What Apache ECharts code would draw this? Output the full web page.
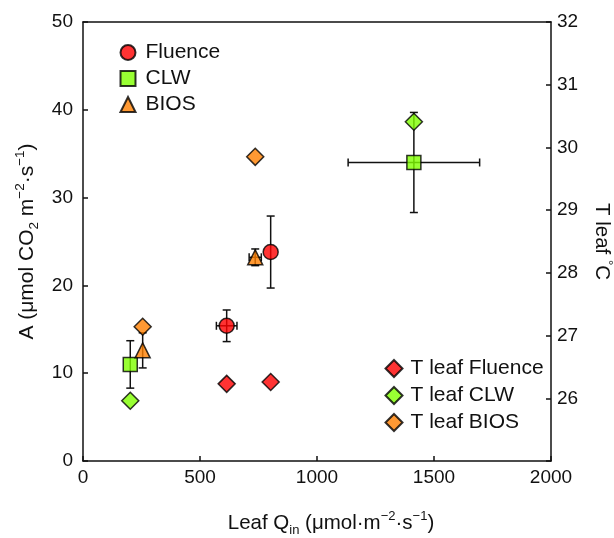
<!DOCTYPE html>
<html>
<head>
<meta charset="utf-8">
<script src="https://cdn.jsdelivr.net/npm/echarts@6/dist/echarts.min.js"></script>
<style>html,body{margin:0;padding:0;background:#fff}#c{width:614px;height:538px}</style>
</head>
<body>
<div id="c"></div>
<script>
// Photosynthesis A (left axis) vs leaf Qin
const fluenceQ = [614, 802];
const fluenceQErr = [44, 0];
const fluenceA = [15.4, 23.8];
const fluenceAErr = [1.8, 4.1];

const clwQ = [202, 1414];
const clwQErr = [0, 281];
const clwA = [11.0, 34.0];
const clwAErr = [2.7, 5.7];

const biosQ = [255, 736];
const biosQErr = [0, 26];
const biosA = [12.6, 23.2];
const biosAErr = [2.0, 0.95];

// Leaf temperature (right axis)
const tLeafFluence = [26.23, 26.26];
const tLeafCLW = [25.96, 30.41];
const tLeafBIOS = [27.14, 29.85];

const xTicks = [0, 500, 1000, 1500, 2000];
const leftTicks = [0, 10, 20, 30, 40, 50];
const rightTicks = [25, 26, 27, 28, 29, 30, 31, 32];

const FONT = '"Liberation Sans", Arial, Helvetica, sans-serif';
const RED = '#ff0000', GREEN = '#80ff00', ORANGE = '#ff8000';
const TICK_FS = 19, LEG_FS = 21;

function pts(xs, ys) { return xs.map((x, i) => [x, ys[i]]); }
function errPts(xs, ys, ex, ey) { return xs.map((x, i) => [x, ys[i], ex[i], ey[i]]); }

function renderErr(params, api) {
  const x = api.value(0), y = api.value(1), ex = api.value(2), ey = api.value(3);
  const cap = 4;
  const ch = [];
  const st = { stroke: '#111', lineWidth: 1.5 };
  if (ey > 0) {
    const t = api.coord([x, y + ey]), b = api.coord([x, y - ey]);
    ch.push({ type: 'line', shape: { x1: t[0], y1: t[1], x2: b[0], y2: b[1] }, style: st });
    ch.push({ type: 'line', shape: { x1: t[0] - cap, y1: t[1], x2: t[0] + cap, y2: t[1] }, style: st });
    ch.push({ type: 'line', shape: { x1: b[0] - cap, y1: b[1], x2: b[0] + cap, y2: b[1] }, style: st });
  }
  if (ex > 0) {
    const l = api.coord([x - ex, y]), r = api.coord([x + ex, y]);
    ch.push({ type: 'line', shape: { x1: l[0], y1: l[1], x2: r[0], y2: r[1] }, style: st });
    ch.push({ type: 'line', shape: { x1: l[0], y1: l[1] - cap, x2: l[0], y2: l[1] + cap }, style: st });
    ch.push({ type: 'line', shape: { x1: r[0], y1: r[1] - cap, x2: r[0], y2: r[1] + cap }, style: st });
  }
  return { type: 'group', children: ch };
}

const lineStyle = { color: '#111', width: 1.5 };
const axisCommon = {
  axisLine: { show: true, onZero: false, lineStyle: lineStyle },
  axisTick: { show: true, inside: true, length: 5, lineStyle: lineStyle },
  axisLabel: { color: '#111', fontSize: TICK_FS, fontFamily: FONT, formatter: (v) => String(v) },
  splitLine: { show: false }
};
const titleRich = (fs, sfs, lh) => ({
  n: { fontSize: fs, color: '#111', fontFamily: FONT, lineHeight: lh, verticalAlign: 'middle' },
  sub: { fontSize: sfs, color: '#111', fontFamily: FONT, lineHeight: lh, verticalAlign: 'bottom' },
  sup: { fontSize: sfs, color: '#111', fontFamily: FONT, lineHeight: lh, verticalAlign: 'top' }
});

const chart = echarts.init(document.getElementById('c'));
const mk = (c) => ({ color: c, borderColor: '#000', borderWidth: 1.5 });

chart.setOption({
  animation: false,
  backgroundColor: '#fff',
  textStyle: { fontFamily: FONT },
  grid: { left: 83, right: 63, top: 22, bottom: 77, outerBoundsMode: 'none', containLabel: false },
  legend: [
    {
      data: ['Fluence', 'CLW', 'BIOS'],
      orient: 'vertical', left: 119.5, top: 42, itemGap: 5, padding: 0,
      itemWidth: 15, itemHeight: 15,
      textStyle: { fontSize: LEG_FS, color: '#111', fontFamily: FONT, padding: [0, 0, 0, 5] }
    },
    {
      data: ['T leaf Fluence', 'T leaf CLW', 'T leaf BIOS'],
      orient: 'vertical', left: 384.5, top: 358, itemGap: 6, padding: 0,
      itemWidth: 17, itemHeight: 17,
      textStyle: { fontSize: LEG_FS, color: '#111', fontFamily: FONT, padding: [0, 0, 0, 3] }
    }
  ],
  xAxis: [
    Object.assign({}, axisCommon, {
      type: 'value', min: xTicks[0], max: xTicks[xTicks.length - 1], interval: 500,
      position: 'bottom',
      axisLabel: Object.assign({}, axisCommon.axisLabel, { margin: 7 }),
      name: '{n|Leaf Q}{sub|in}{n| (μmol·m}{sup|−2}{n|·s}{sup|−1}{n|)}',
      nameLocation: 'middle', nameGap: 49,
      nameTextStyle: { rich: titleRich(20.5, 13, 27), padding: [0, 0, 0, 28] }
    }),
    {
      type: 'value', min: 0, max: 2000, position: 'top',
      axisLine: { show: true, onZero: false, lineStyle: lineStyle },
      axisTick: { show: false }, axisLabel: { show: false }, splitLine: { show: false }
    }
  ],
  yAxis: [
    Object.assign({}, axisCommon, {
      type: 'value', min: leftTicks[0], max: leftTicks[leftTicks.length - 1], interval: 10,
      position: 'left',
      axisLabel: Object.assign({}, axisCommon.axisLabel, { margin: 10 }),
      name: '{n|A (μmol CO}{sub|2}{n| m}{sup|−2}{n|·s}{sup|−1}{n|)}',
      nameLocation: 'middle', nameGap: 37, nameRotate: 90,
      nameTextStyle: { rich: titleRich(21, 13.5, 28) }
    }),
    Object.assign({}, axisCommon, {
      type: 'value', min: rightTicks[0], max: rightTicks[rightTicks.length - 1], interval: 1,
      position: 'right',
      axisLabel: Object.assign({}, axisCommon.axisLabel, {
        margin: 6,
        formatter: (v) => (v === rightTicks[0] ? '' : String(v))
      }),
      name: '{n|T leaf }{sup|°}{n|C}',
      nameLocation: 'middle', nameGap: 39, nameRotate: -90,
      nameTextStyle: { rich: titleRich(20.5, 13, 24) }
    })
  ],
  series: [
    { type: 'custom', name: 'errFluence', renderItem: renderErr, data: errPts(fluenceQ, fluenceA, fluenceQErr, fluenceAErr), encode: { x: 0, y: 1 }, z: 1, silent: true },
    { type: 'custom', name: 'errCLW', renderItem: renderErr, data: errPts(clwQ, clwA, clwQErr, clwAErr), encode: { x: 0, y: 1 }, z: 1, silent: true },
    { type: 'custom', name: 'errBIOS', renderItem: renderErr, data: errPts(biosQ, biosA, biosQErr, biosAErr), encode: { x: 0, y: 1 }, z: 1, silent: true },
    { type: 'scatter', name: 'Fluence', symbol: 'circle', symbolSize: 15, itemStyle: mk(RED), data: pts(fluenceQ, fluenceA), z: 3 },
    { type: 'scatter', name: 'CLW', symbol: 'rect', symbolSize: 14, itemStyle: mk(GREEN), data: pts(clwQ, clwA), z: 3 },
    { type: 'scatter', name: 'BIOS', symbol: 'triangle', symbolSize: 15, itemStyle: mk(ORANGE), data: pts(biosQ, biosA), z: 3 },
    { type: 'scatter', name: 'T leaf Fluence', yAxisIndex: 1, symbol: 'diamond', symbolSize: 17, itemStyle: mk(RED), data: pts(fluenceQ, tLeafFluence), z: 4 },
    { type: 'scatter', name: 'T leaf CLW', yAxisIndex: 1, symbol: 'diamond', symbolSize: 17, itemStyle: mk(GREEN), data: pts(clwQ, tLeafCLW), z: 4 },
    { type: 'scatter', name: 'T leaf BIOS', yAxisIndex: 1, symbol: 'diamond', symbolSize: 17, itemStyle: mk(ORANGE), data: pts(biosQ, tLeafBIOS), z: 4 }
  ]
});
</script>
</body>
</html>
